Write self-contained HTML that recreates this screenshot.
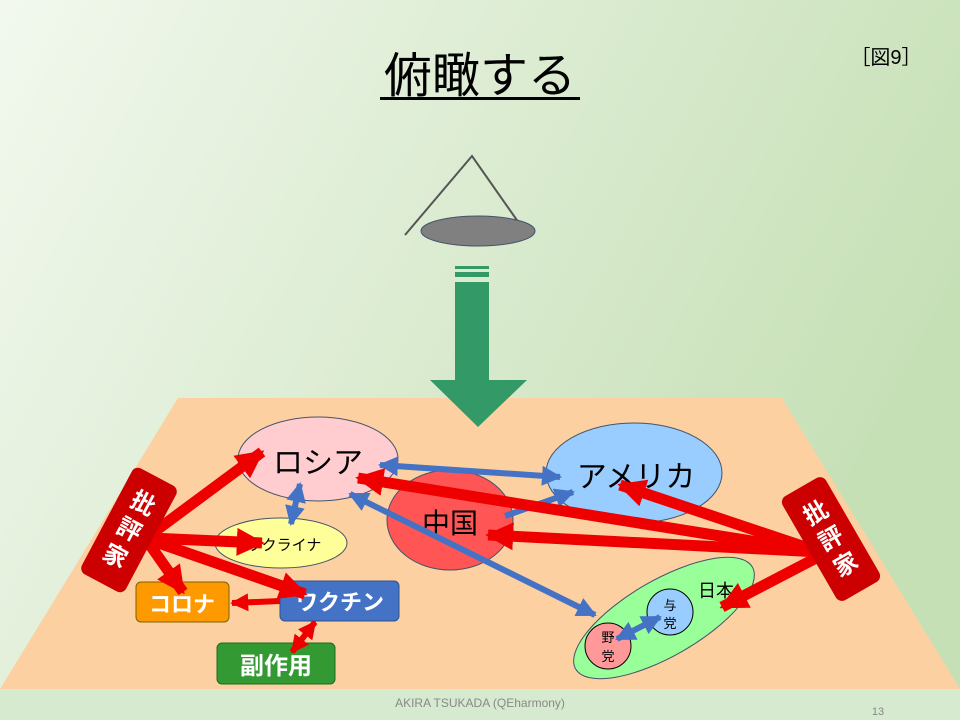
<!DOCTYPE html>
<html><head><meta charset="utf-8"><style>
html,body{margin:0;padding:0}
body{width:960px;height:720px;overflow:hidden;font-family:"Liberation Sans","Noto Sans CJK JP",sans-serif}
</style></head><body>
<svg width="960" height="720" viewBox="0 0 960 720" xmlns="http://www.w3.org/2000/svg" font-family="Liberation Sans, Noto Sans CJK JP, sans-serif">
<defs>
<linearGradient id="bg" x1="0" y1="0" x2="1" y2="0.4">
<stop offset="0" stop-color="#f2f8ee"/><stop offset="0.5" stop-color="#dcecd2"/><stop offset="1" stop-color="#c6e0b6"/>
</linearGradient>
<marker id="rh" viewBox="0 0 10 10" refX="9" refY="5" markerWidth="28" markerHeight="28" markerUnits="userSpaceOnUse" orient="auto-start-reverse"><path d="M0,0 L10,5 L0,10 Z" fill="#ee0000"/></marker>
<marker id="rhs" viewBox="0 0 10 10" refX="9" refY="5" markerWidth="18" markerHeight="18" markerUnits="userSpaceOnUse" orient="auto-start-reverse"><path d="M0,0 L10,5 L0,10 Z" fill="#ee0000"/></marker>
<marker id="bh" viewBox="0 0 10 10" refX="9" refY="5" markerWidth="20" markerHeight="20" markerUnits="userSpaceOnUse" orient="auto-start-reverse"><path d="M0,0 L10,5 L0,10 Z" fill="#4472c4"/></marker>
</defs>
<rect width="960" height="720" fill="url(#bg)"/>
<rect y="689" width="960" height="31" fill="#d6ead0"/>
<polygon points="178,398 782,398 960,689 0,689" fill="#fdd0a2"/>

<text x="480" y="92" font-size="48" text-anchor="middle" fill="#000">俯瞰する</text>
<rect x="380" y="97" width="200" height="3" fill="#000"/>
<text x="886" y="64" font-size="20" text-anchor="middle" fill="#000">［図9］</text>

<polyline points="405,235 472,156 528,236" fill="none" stroke="#555" stroke-width="2"/>
<ellipse cx="478" cy="231" rx="57" ry="15" fill="#808080" stroke="#44546a" stroke-width="1"/>
<rect x="455" y="266" width="34" height="3" fill="#339966"/>
<rect x="455" y="272" width="34" height="5" fill="#339966"/>
<rect x="455" y="282" width="34" height="100" fill="#339966"/>
<polygon points="430,380 527,380 478,427" fill="#339966"/>

<ellipse cx="318" cy="459" rx="80" ry="42" fill="#ffccd0" stroke="#44546a"/>
<ellipse cx="634" cy="473" rx="88" ry="50" fill="#99ccff" stroke="#44546a"/>
<ellipse cx="450" cy="520" rx="63" ry="50" fill="#ff5555" stroke="#44546a"/>
<ellipse cx="281" cy="543" rx="66" ry="25" fill="#ffff99" stroke="#44546a"/>
<ellipse cx="664" cy="618" rx="102" ry="38" transform="rotate(-30 664 618)" fill="#99ff99" stroke="#44546a"/>
<circle cx="670" cy="612" r="23" fill="#99ccff" stroke="#000"/>
<circle cx="608" cy="646" r="23" fill="#ff9999" stroke="#000"/>

<text x="318" y="473" font-size="30" text-anchor="middle">ロシア</text>
<text x="636" y="487" font-size="30" text-anchor="middle">アメリカ</text>
<text x="450" y="533" font-size="28" text-anchor="middle">中国</text>
<text x="284" y="550" font-size="15" text-anchor="middle">ウクライナ</text>
<text x="698" y="597" font-size="18">日本</text>
<text x="670" y="610" font-size="13" text-anchor="middle">与</text>
<text x="670" y="628" font-size="13" text-anchor="middle">党</text>
<text x="608" y="642" font-size="13" text-anchor="middle">野</text>
<text x="608" y="661" font-size="13" text-anchor="middle">党</text>

<rect x="136" y="582" width="93" height="40" rx="5" fill="#ff9900" stroke="#7f6000"/>
<text x="182" y="612" font-size="22" text-anchor="middle" fill="#fff" font-weight="bold">コロナ</text>
<rect x="280" y="581" width="119" height="40" rx="5" fill="#4472c4" stroke="#2f528f"/>
<text x="340" y="610" font-size="22" text-anchor="middle" fill="#fff" font-weight="bold">ワクチン</text>
<rect x="217" y="643" width="118" height="41" rx="5" fill="#339933" stroke="#1e6b1e"/>
<text x="276" y="674" font-size="24" text-anchor="middle" fill="#fff" font-weight="bold">副作用</text>

<!-- blue arrows -->
<g stroke="#4472c4" stroke-width="6" fill="none">
<line x1="380" y1="465" x2="560" y2="477" marker-start="url(#bh)" marker-end="url(#bh)"/>
<line x1="300" y1="484" x2="291" y2="524" marker-start="url(#bh)" marker-end="url(#bh)"/>
<line x1="505" y1="516" x2="573" y2="492" marker-end="url(#bh)"/>
<line x1="350" y1="494" x2="595" y2="615" marker-start="url(#bh)" marker-end="url(#bh)"/>
<line x1="617" y1="639" x2="660" y2="617" marker-start="url(#bh)" marker-end="url(#bh)"/>
</g>

<!-- red arrows -->
<g stroke="#ee0000" stroke-width="11" fill="none">
<line x1="150" y1="535" x2="262" y2="452" marker-end="url(#rh)"/>
<line x1="150" y1="538" x2="262" y2="543" marker-end="url(#rh)"/>
<line x1="150" y1="540" x2="305" y2="594" marker-end="url(#rh)"/>
<line x1="150" y1="545" x2="183" y2="592" marker-end="url(#rh)"/>
<line x1="820" y1="552" x2="620" y2="485" marker-end="url(#rh)"/>
<line x1="820" y1="552" x2="488" y2="535" marker-end="url(#rh)"/>
<line x1="820" y1="552" x2="358" y2="478" marker-end="url(#rh)"/>
<line x1="820" y1="556" x2="722" y2="607" marker-end="url(#rh)"/>
</g>
<g stroke="#ee0000" stroke-width="6" fill="none">
<line x1="280" y1="601" x2="232" y2="603" marker-end="url(#rhs)"/>
<line x1="315" y1="622" x2="292" y2="652" marker-start="url(#rhs)" marker-end="url(#rhs)"/>
</g>

<g transform="rotate(28 129 530)">
<rect x="104" y="470" width="50" height="120" rx="7" fill="#cc0000"/>
<text x="129" y="508" font-size="24" text-anchor="middle" fill="#fff" font-weight="bold">批</text>
<text x="129" y="538" font-size="24" text-anchor="middle" fill="#fff" font-weight="bold">評</text>
<text x="129" y="568" font-size="24" text-anchor="middle" fill="#fff" font-weight="bold">家</text>
</g>
<g transform="rotate(-30 831 539)">
<rect x="806" y="479" width="50" height="120" rx="7" fill="#cc0000"/>
<text x="831" y="517" font-size="24" text-anchor="middle" fill="#fff" font-weight="bold">批</text>
<text x="831" y="547" font-size="24" text-anchor="middle" fill="#fff" font-weight="bold">評</text>
<text x="831" y="577" font-size="24" text-anchor="middle" fill="#fff" font-weight="bold">家</text>
</g>

<text x="480" y="707" font-size="12" text-anchor="middle" fill="#888">AKIRA TSUKADA (QEharmony)</text>
<text x="878" y="715" font-size="11" text-anchor="middle" fill="#888">13</text>
</svg>
</body></html>
